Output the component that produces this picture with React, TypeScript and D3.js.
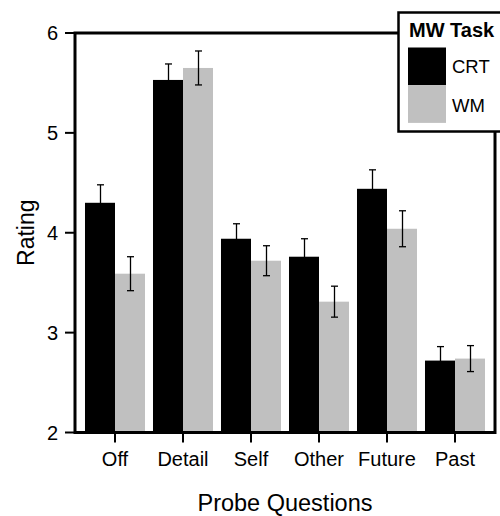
import React from "react";
import * as d3 from "d3";

// Probe question categories and mean ratings (± SE) per mind-wandering task
const categories = ["Off", "Detail", "Self", "Other", "Future", "Past"];
const seriesNames = ["CRT", "WM"];
const crtMeans = [4.3, 5.53, 3.94, 3.76, 4.44, 2.72];
const crtErrors = [0.18, 0.16, 0.15, 0.18, 0.19, 0.14];
const wmMeans = [3.59, 5.65, 3.72, 3.31, 4.04, 2.74];
const wmErrors = [0.17, 0.17, 0.15, 0.155, 0.18, 0.13];
const yTicks = [2, 3, 4, 5, 6];
const seriesColors = ["#000000", "#c0c0c0"];

const W = 500;
const H = 516;
const FONT = "'Liberation Sans', Arial, sans-serif";

export default function App() {
  const left = 75;
  const right = 495;
  const top = 33;
  const bottom = 432.5;

  const y = d3.scaleLinear().domain([2, 6]).range([bottom, top]);
  const x = d3.scaleBand<string>().domain(categories).range([81, 489]).padding(0);
  const xSub = d3
    .scaleBand<string>()
    .domain(seriesNames)
    .range([0, x.bandwidth()])
    .paddingInner(0)
    .paddingOuter(0.133);

  const means = [crtMeans, wmMeans];
  const errors = [crtErrors, wmErrors];

  const bars = categories.flatMap((c, i) =>
    seriesNames.map((s, k) => ({
      cat: c,
      series: s,
      value: means[k][i],
      err: errors[k][i],
      color: seriesColors[k],
      x0: (x(c) ?? 0) + (xSub(s) ?? 0),
    }))
  );
  const bw = xSub.bandwidth();
  const cap = 3.5;

  return (
    <svg
      width={W}
      height={H}
      style={{ position: "absolute", left: 0, top: 0, background: "#fff" }}
      fontFamily={FONT}
    >
      {/* bars */}
      {bars.map((b) => (
        <rect
          key={b.cat + b.series}
          x={b.x0}
          y={y(b.value)}
          width={bw}
          height={y(2) - y(b.value)}
          fill={b.color}
        />
      ))}
      {/* error bars */}
      {bars.map((b) => {
        const cx = Math.round(b.x0 + bw / 2) + 0.5;
        const hi = y(b.value + b.err);
        const lo = y(b.value - b.err);
        return (
          <g key={"e" + b.cat + b.series} stroke="#000" strokeWidth={1.3}>
            <line x1={cx} x2={cx} y1={hi} y2={lo} />
            <line x1={cx - cap} x2={cx + cap} y1={hi} y2={hi} />
            <line x1={cx - cap} x2={cx + cap} y1={lo} y2={lo} />
          </g>
        );
      })}
      {/* frame */}
      <rect
        x={left}
        y={top}
        width={right - left}
        height={bottom - top}
        fill="none"
        stroke="#000"
        strokeWidth={3}
      />
      {/* y axis ticks */}
      {yTicks.map((t) => (
        <g key={"y" + t}>
          <line x1={65} x2={left} y1={y(t)} y2={y(t)} stroke="#000" strokeWidth={2} />
          <text
            x={58}
            y={y(t)}
            dy="0.35em"
            textAnchor="end"
            fontSize={20}
            fill="#000"
          >
            {t}
          </text>
        </g>
      ))}
      {/* x axis ticks */}
      {categories.map((c) => {
        const cx = (x(c) ?? 0) + x.bandwidth() / 2;
        return (
          <g key={"x" + c}>
            <line x1={cx} x2={cx} y1={bottom} y2={bottom + 10} stroke="#000" strokeWidth={2} />
            <text x={cx} y={466} textAnchor="middle" fontSize={20} fill="#000">
              {c}
            </text>
          </g>
        );
      })}
      {/* axis titles */}
      <text
        x={(left + right) / 2}
        y={510.5}
        textAnchor="middle"
        fontSize={23.5}
        fill="#000"
      >
        Probe Questions
      </text>
      <text
        transform={`translate(34, ${(top + bottom) / 2}) rotate(-90)`}
        textAnchor="middle"
        fontSize={23}
        fill="#000"
      >
        Rating
      </text>
      {/* legend */}
      <g>
        <rect x={398.5} y={12.5} width={120} height={119} fill="#fff" stroke="#000" strokeWidth={2.5} />
        <text x={409} y={37.3} fontSize={20} fontWeight="bold" fill="#000">
          MW Task
        </text>
        {seriesNames.map((s, k) => (
          <g key={"l" + s}>
            <rect x={408} y={47.5 + k * 37.7} width={38} height={37.7} fill={seriesColors[k]} />
            <text x={452} y={73.3 + k * 38.4} fontSize={18.5} fill="#000">
              {s}
            </text>
          </g>
        ))}
      </g>
    </svg>
  );
}
